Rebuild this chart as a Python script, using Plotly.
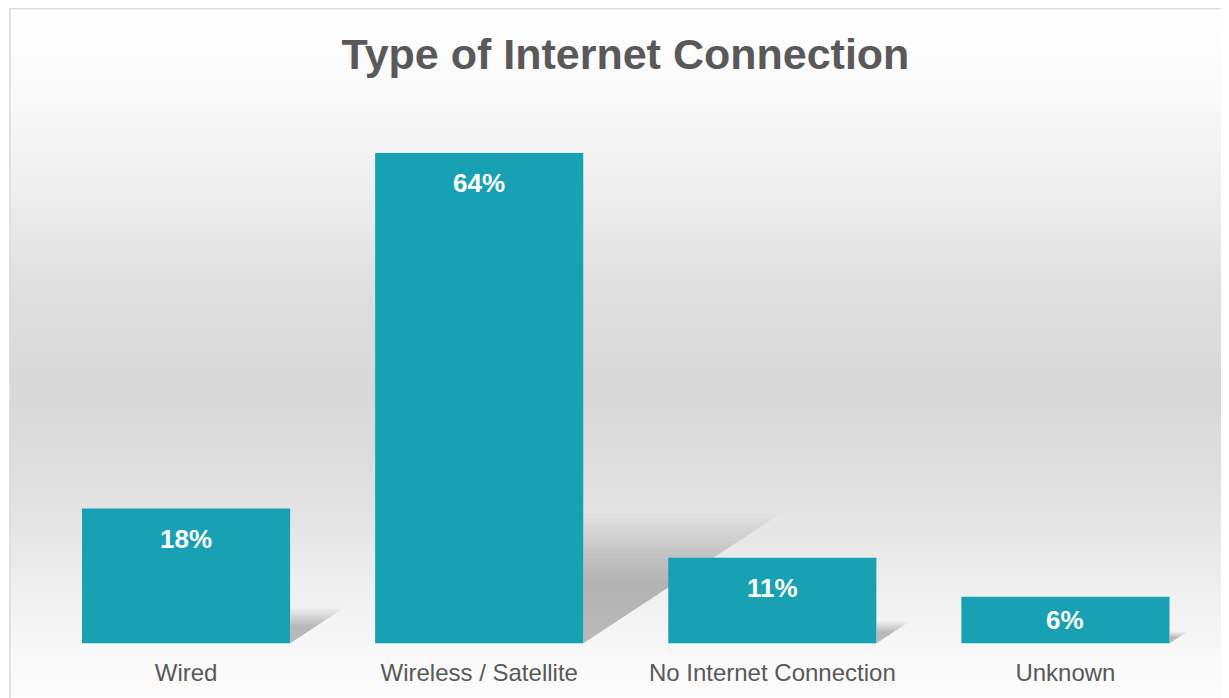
import plotly.graph_objects as go

categories = ["Wired", "Wireless / Satellite", "No Internet Connection", "Unknown"]
values = [17.6, 64.0, 11.2, 6.1]
labels = ["18%", "64%", "11%", "6%"]
title_text = "Type of Internet Connection"

W, H = 1229, 698
OFF = 8  # page body margin: figure origin sits at (8, 8) on screen
BAR_COLOR = "#17a1b3"
TEXT_GRAY = "#595959"

def px(sx):  # screen x -> paper x
    return (sx - OFF) / W

def py(sy):  # screen y -> paper y
    return 1 - (sy - OFF) / H

# plot area in screen pixels
PX_L, PX_R = 39.5, 1212.0
PY_T, PY_B = 107.0, 643.5
Y_MAX = 70
X_UNIT_PX = (PX_R - PX_L) / len(categories)
Y_UNIT_PX = (PY_B - PY_T) / Y_MAX
BAR_W = 0.71

fig = go.Figure()
fig.add_trace(go.Bar(
    x=list(range(len(categories))), y=values, width=BAR_W,
    marker=dict(color=BAR_COLOR, line=dict(width=0)),
    hoverinfo="skip", showlegend=False,
))

shapes = []
# background gradient
stops = [(8, 255), (100, 249), (200, 237), (300, 222), (390, 216), (460, 221),
         (530, 230), (600, 241), (650, 248), (698, 252)]
def grad(y):
    for (a, ca), (b, cb) in zip(stops[:-1], stops[1:]):
        if a <= y <= b:
            return ca + (cb - ca) * (y - a) / (b - a)
    return stops[-1][1]
step = 3
y = 8
while y < H:
    c = int(round(grad(y + step / 2)))
    shapes.append(dict(type="rect", xref="paper", yref="paper", layer="below",
                       x0=px(10), x1=px(1228), y0=py(y + step), y1=py(y),
                       fillcolor=f"rgb({c},{c},{c})", line=dict(width=0)))
    y += step
# border
shapes.append(dict(type="rect", xref="paper", yref="paper", layer="below",
                   x0=px(10), x1=px(1228), y0=py(720), y1=py(8.5),
                   fillcolor="rgba(0,0,0,0)", line=dict(color="#d9d9d9", width=1.5)))
# bar shadows (soft, layered)
n_layers = 16
for i, v in enumerate(values):
    xr = i + BAR_W / 2
    h_px = v * Y_UNIT_PX
    for k in range(n_layers):
        f = 1.15 - 0.6 * k / (n_layers - 1)
        s_x = 0.35 * h_px * f / X_UNIT_PX
        hs = 0.23 * v * f
        shapes.append(dict(type="path", xref="x", yref="y", layer="below",
                           path=f"M {xr},0 L {xr},{hs} L {xr + s_x},{hs} Z",
                           fillcolor="rgba(0,0,0,0.014)", line=dict(width=0)))

annotations = []
for i, (v, lab) in enumerate(zip(values, labels)):
    h_px = v * Y_UNIT_PX
    annotations.append(dict(x=i, y=v, xref="x", yref="y", text=lab, showarrow=False,
                            yanchor="middle", yshift=-min(30, h_px / 2),
                            font=dict(family="Liberation Sans, Arial", size=26, color="white",
                                      weight="bold")))

fig.update_layout(
    width=W, height=H,
    margin=dict(l=0, r=0, t=0, b=0),
    paper_bgcolor="white", plot_bgcolor="rgba(0,0,0,0)",
    title=dict(text=f"<b>{title_text}</b>", x=px(625.5), xanchor="center",
               y=py(53.5), yanchor="middle",
               font=dict(family="Liberation Sans, Arial", size=43, color=TEXT_GRAY)),
    xaxis=dict(domain=[px(PX_L), px(PX_R)], range=[-0.5, len(categories) - 0.5],
               tickvals=list(range(len(categories))), ticktext=categories,
               showgrid=False, zeroline=False, showline=False,
               ticks="", ticklabelstandoff=12,
               tickfont=dict(family="Liberation Sans, Arial", size=24, color=TEXT_GRAY)),
    yaxis=dict(domain=[py(PY_B), py(PY_T)], range=[0, Y_MAX],
               showgrid=False, zeroline=False, showticklabels=False, showline=False),
    shapes=shapes, annotations=annotations, bargap=0.29,
)

fig.write_html("out.html")
